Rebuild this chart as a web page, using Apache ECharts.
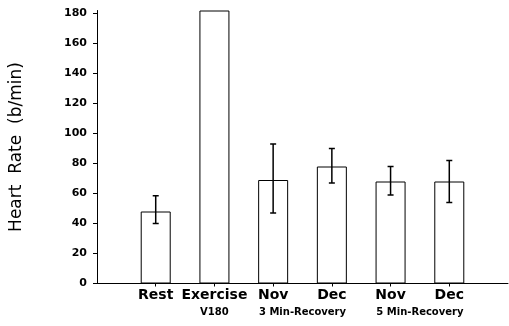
<!DOCTYPE html>
<html>
<head>
<meta charset="utf-8">
<script src="https://cdn.jsdelivr.net/npm/echarts@6/dist/echarts.min.js"></script>
<style>html,body{margin:0;padding:0;background:#fff;}#c{width:509px;height:326px;}</style>
</head>
<body>
<div id="c"></div>
<script>
var categories = ['Rest', 'Exercise', 'Nov', 'Dec', 'Nov', 'Dec'];
var positions = [1, 2, 3, 4, 5, 6];
var heartRate = [48, 182, 69, 78, 68, 68];
var errHigh = [58.5, null, 93, 90, 78, 82];
var errLow = [40, null, 47, 67, 59, 54];
var groupLabels = ['V180', '3 Min-Recovery', '5 Min-Recovery'];
var groupPositions = [2, 3.5, 5.5];
var yTicks = [0, 20, 40, 60, 80, 100, 120, 140, 160, 180];

var barData = positions.map(function (p, i) { return [p, heartRate[i]]; });
var errData = [];
positions.forEach(function (p, i) {
  if (errHigh[i] != null) errData.push([p, errHigh[i], errLow[i]]);
});

var chart = echarts.init(document.getElementById('c'), null, {renderer: 'canvas'});
var font = 'DejaVu Sans';
chart.setOption({
  animation: false,
  backgroundColor: '#fff',
  grid: {left: 95, right: 1, top: 10.5, bottom: 42.5, containLabel: false},
  xAxis: [{
    type: 'value', min: 0, max: 7,
    splitLine: {show: false},
    axisLine: {show: true, lineStyle: {color: '#000', width: 1}},
    axisTick: {show: true, length: 3, inside: false, customValues: positions, lineStyle: {color: '#000'}},
    axisLabel: {
      customValues: positions, margin: 5, color: '#000', fontFamily: font, fontSize: 14, fontWeight: 'bold',
      formatter: function (v) { var i = positions.indexOf(v); return i >= 0 ? categories[i] : ''; }
    }
  }, {
    type: 'value', min: 0, max: 7, position: 'bottom',
    splitLine: {show: false}, axisLine: {show: false}, axisTick: {show: false},
    axisLabel: {
      customValues: groupPositions, margin: 24, color: '#000', fontFamily: font, fontSize: 10, fontWeight: 'bold',
      formatter: function (v) { var i = groupPositions.indexOf(v); return i >= 0 ? groupLabels[i] : ''; }
    }
  }],
  yAxis: {
    type: 'value', min: 0, max: 182,
    name: 'Heart  Rate  (b/min)', nameLocation: 'middle', nameGap: 72,
    nameTextStyle: {color: '#000', fontFamily: font, fontSize: 17},
    splitLine: {show: false},
    axisLine: {show: true, lineStyle: {color: '#000', width: 1}},
    axisTick: {show: true, length: 4, customValues: yTicks, lineStyle: {color: '#000'}},
    axisLabel: {customValues: yTicks, margin: 10, color: '#000', fontFamily: font, fontSize: 11, fontWeight: 'bold'}
  },
  series: [{
    type: 'bar', xAxisIndex: 0, data: barData, barWidth: 30,
    itemStyle: {color: '#fff', borderColor: '#000', borderWidth: 1}
  }, {
    type: 'custom', xAxisIndex: 0, data: errData,
    renderItem: function (params, api) {
      var x = api.value(0);
      var hi = api.coord([x, api.value(1)]);
      var lo = api.coord([x, api.value(2)]);
      var c = 3;
      var st = {stroke: '#000', lineWidth: 1.5};
      return {type: 'group', children: [
        {type: 'line', shape: {x1: hi[0], y1: hi[1], x2: lo[0], y2: lo[1]}, style: st},
        {type: 'line', shape: {x1: hi[0] - c, y1: hi[1], x2: hi[0] + c, y2: hi[1]}, style: st},
        {type: 'line', shape: {x1: lo[0] - c, y1: lo[1], x2: lo[0] + c, y2: lo[1]}, style: st}
      ]};
    },
    z: 5
  }]
});
</script>
</body>
</html>
